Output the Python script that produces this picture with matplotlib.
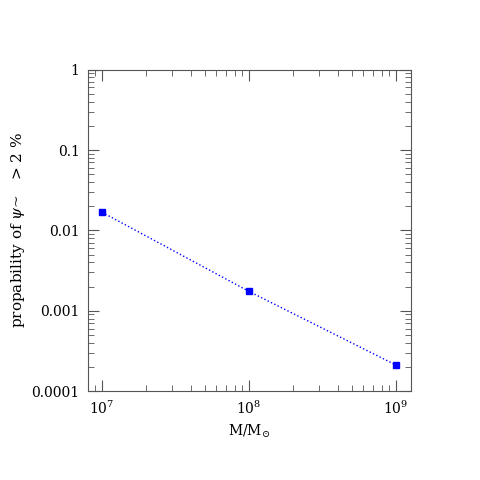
import matplotlib
matplotlib.use("Agg")
import matplotlib.pyplot as plt
from matplotlib.ticker import FixedLocator, FixedFormatter

plt.rcParams['font.family'] = ['DejaVu Serif']
plt.rcParams['mathtext.fontset'] = 'dejavuserif'

masa = [1e7, 1e8, 1e9]
probabilidad = [0.0168, 0.00174, 0.000211]

y_ticks = [1e-4, 1e-3, 1e-2, 1e-1, 1]
y_labels = ["0.0001", "0.001", "0.01", "0.1", "1"]

fig = plt.figure(figsize=(4.8, 4.8), dpi=100)
ax = fig.add_axes([0.183, 0.185, 0.674, 0.67])
ax.plot(masa, probabilidad, linestyle=":", color="blue", linewidth=1,
        marker="s", markersize=4.5, markerfacecolor="blue", markeredgecolor="blue")
ax.set_xscale("log")
ax.set_yscale("log")
ax.set_xlim(8.0e6, 1.27e9)
ax.set_ylim(1e-4, 1)

ax.yaxis.set_major_locator(FixedLocator(y_ticks))
ax.yaxis.set_major_formatter(FixedFormatter(y_labels))

for s in ax.spines.values():
    s.set_color("#555555")
    s.set_linewidth(0.8)
ax.tick_params(which="both", direction="in", top=True, right=True, color="#555555",
               labelsize=10, labelcolor="black")
ax.tick_params(which="major", length=8, width=0.8, pad=6)
ax.tick_params(which="minor", length=4, width=0.6)

ax.set_xlabel(r"M/M$_{\odot}$", fontsize=10, labelpad=4)
ax.set_ylabel(r"propability of $\psi$~   > 2 %", fontsize=11, labelpad=3)

fig.savefig("out.png", dpi=100)
